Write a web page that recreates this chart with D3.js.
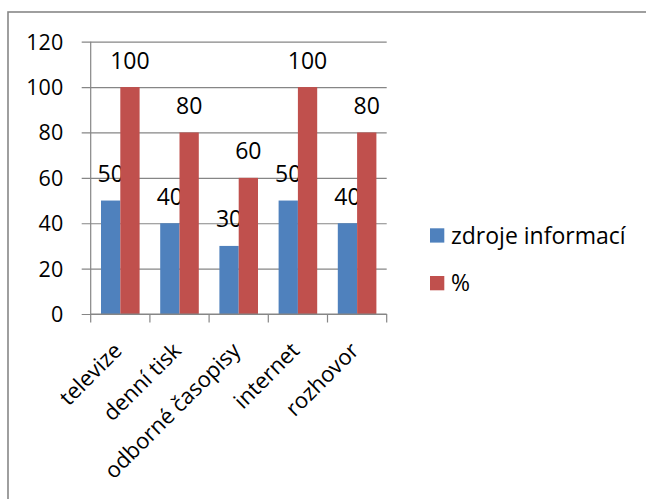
<!DOCTYPE html>
<html><head><meta charset="utf-8">
<script src="https://cdn.jsdelivr.net/npm/d3@7"></script>
<style>
html,body{margin:0;padding:0;background:#fff;}
svg{display:block;}
</style></head>
<body>
<svg id="chart" width="646" height="499"></svg>
<script>
const categories = ["televize", "denní tisk", "odborné časopisy", "internet", "rozhovor"];
const seriesNames = ["zdroje informací", "%"];
const zdrojeValues = [50, 40, 30, 50, 40];
const percentValues = [100, 80, 60, 100, 80];
const yTicks = [0, 20, 40, 60, 80, 100, 120];
const colors = ["#4F81BD", "#C0504D"];

(function () {
const FONT = "'Open Sans', sans-serif";
const seriesValues = [zdrojeValues, percentValues];
const svg = d3.select("#chart");

// outer frame
svg.append("rect").attr("x", 8).attr("y", 12).attr("width", 660).attr("height", 520)
  .attr("fill", "none").attr("stroke", "#878787").attr("stroke-width", 1.6);

const pLeft = 90.7, pRight = 386.7, pTop = 41.7, pBottom = 314;
const x = d3.scaleBand().domain(categories).range([pLeft, pRight]).padding(0);
const xs = d3.scaleBand().domain(seriesNames).range([0, x.bandwidth()]).paddingInner(0).paddingOuter(0.534);
const y = d3.scaleLinear().domain([0, 120]).range([pBottom, pTop]);

// gridlines + y axis ticks
const yAxis = d3.axisLeft(y).tickValues(yTicks).tickSize(-(pRight - pLeft)).tickSizeOuter(0).tickFormat(d3.format("d"));
const gy = svg.append("g").attr("transform", `translate(${pLeft},0)`).call(yAxis);
gy.attr("font-family", FONT).attr("font-size", 21.5);
gy.select(".domain").remove();
gy.selectAll(".tick line").attr("x1", -9).attr("stroke", "#868686").attr("stroke-width", 1.2);
gy.selectAll(".tick text").attr("x", -27.5).attr("dy", "0.35em").attr("fill", "#000");

// y axis line
svg.append("line").attr("x1", pLeft).attr("x2", pLeft).attr("y1", pTop).attr("y2", pBottom)
  .attr("stroke", "#868686").attr("stroke-width", 1.2);

// bars
const groups = svg.append("g").selectAll("g").data(categories).join("g")
  .attr("transform", d => `translate(${x(d)},0)`);
seriesNames.forEach((s, si) => {
  groups.append("rect")
    .attr("x", xs(s)).attr("width", xs.bandwidth())
    .attr("y", (d, i) => y(seriesValues[si][i]))
    .attr("height", (d, i) => pBottom - y(seriesValues[si][i]))
    .attr("fill", colors[si]);
  groups.append("text")
    .attr("x", xs(s) + xs.bandwidth() / 2)
    .attr("y", (d, i) => y(seriesValues[si][i]) - 18.5)
    .attr("text-anchor", "middle")
    .attr("font-family", FONT).attr("font-size", 23).attr("fill", "#000")
    .text((d, i) => seriesValues[si][i]);
});

// x axis
const xAxisLine = svg.append("g");
xAxisLine.append("line").attr("x1", pLeft).attr("x2", pRight).attr("y1", pBottom).attr("y2", pBottom)
  .attr("stroke", "#868686").attr("stroke-width", 1.2);
const boundaries = categories.map(c => x(c)).concat([pRight]);
xAxisLine.selectAll("line.tk").data(boundaries).join("line").attr("class", "tk")
  .attr("x1", d => d).attr("x2", d => d).attr("y1", pBottom).attr("y2", pBottom + 8.5)
  .attr("stroke", "#868686").attr("stroke-width", 1.2);
svg.append("g").selectAll("text").data(categories).join("text")
  .attr("text-anchor", "end")
  .attr("font-family", FONT).attr("font-size", 22).attr("fill", "#000")
  .attr("transform", d => `translate(${x(d) + x.bandwidth() / 2 + 3},352) rotate(-45)`)
  .text(d => d);

// legend
const legend = svg.append("g");
seriesNames.forEach((s, i) => {
  const ly = 228.3 + i * 47.7;
  legend.append("rect").attr("x", 430).attr("y", ly).attr("width", 14.3).attr("height", 14.3).attr("fill", colors[i]);
  legend.append("text").attr("x", 451).attr("y", ly + 15.2)
    .attr("font-family", FONT).attr("font-size", 23).attr("fill", "#000").text(s);
});
})();
</script>
</body></html>
